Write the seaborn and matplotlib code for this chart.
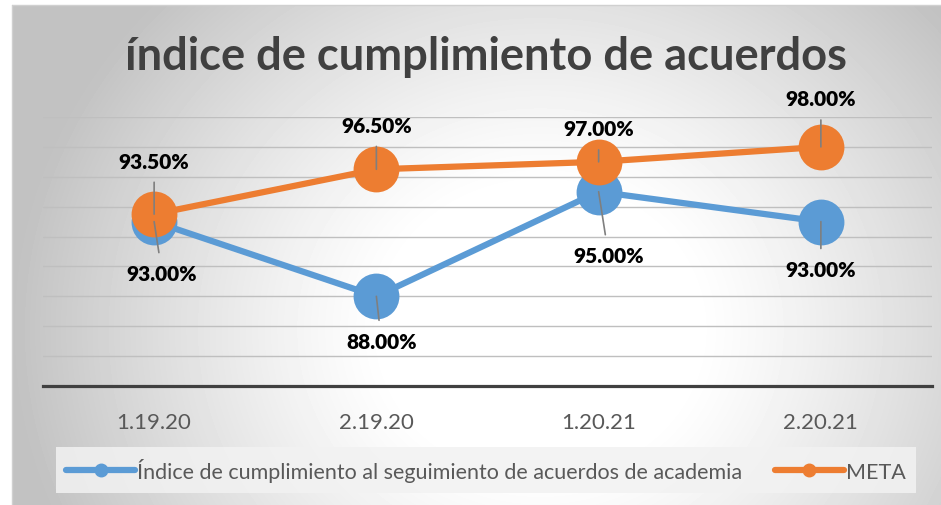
import numpy as np
import pandas as pd
import matplotlib
matplotlib.use("Agg")
import matplotlib.pyplot as plt
import seaborn as sns
from matplotlib.lines import Line2D

# datos
periodos = ["1.19.20", "2.19.20", "1.20.21", "2.20.21"]
indice = [93.0, 88.0, 95.0, 93.0]
meta = [93.5, 96.5, 97.0, 98.0]
serie_indice = "Índice de cumplimiento al seguimiento de acuerdos de academia"
serie_meta = "META"
titulo = "índice de cumplimiento de acuerdos"

azul = "#5B9BD5"
naranja = "#ED7D31"

sns.set_style("white")
plt.rcParams["font.family"] = ["Lato", "DejaVu Sans"]

df = pd.DataFrame({
    "x": list(range(len(periodos))) * 2,
    "valor": indice + meta,
    "serie": [serie_indice] * len(indice) + [serie_meta] * len(meta),
})

W, H = 941, 506
fig = plt.figure(figsize=(W / 100, H / 100), dpi=100)

# fondo degradado radial
bg = fig.add_axes([0, 0, 1, 1])
bg.set_xlim(0, W)
bg.set_ylim(H, 0)
bg.axis("off")
yy, xx = np.mgrid[6:H, 12:W]
r = np.hypot((xx - 540) / 440.0, (yy - 330) / 400.0)
g = np.clip((r - 0.35) / 0.85, 0, 1)
val = 1 - 0.24 * g ** 1.2
bg.imshow(val, cmap="gray", vmin=0, vmax=1, extent=(12, W, H, 6), aspect="auto", interpolation="bilinear")
bg.plot([12, W], [6, 6], color="#d0d0d0", lw=1)
bg.plot([12, 12], [6, H], color="#d0d0d0", lw=1)

ax = fig.add_axes([43 / W, 1 - 387 / H, 889 / W, 269 / H])
ax.set_facecolor("none")

sns.lineplot(data=df, x="x", y="valor", hue="serie", palette=[azul, naranja],
             marker="o", markersize=33, markeredgewidth=0, linewidth=4.5,
             legend=False, ax=ax, zorder=3)

ax.set_xlim(-0.5, len(periodos) - 0.5)
ax.set_ylim(82, 100)
ax.set_yticks(np.arange(82, 101, 2))
ax.set_yticklabels([])
ax.set_xticks(range(len(periodos)))
ax.set_xticklabels(periodos, fontsize=16, color="#595959")
ax.tick_params(axis="both", length=0)
ax.tick_params(axis="x", pad=19)
ax.set_xlabel("")
ax.set_ylabel("")
ax.yaxis.grid(True, color="#bfbfbf", lw=1)
ax.set_axisbelow(True)
for s in ["top", "left", "right"]:
    ax.spines[s].set_visible(False)
ax.spines["bottom"].set_color("#404040")
ax.spines["bottom"].set_linewidth(2.3)

# etiquetas de datos con lineas guia
off_meta = [(0, 53), (0, 44), (0, 33), (0, 48)]
off_indice = [(8, -52), (5, -45), (10, -64), (0, -48)]
for serie, offs in [(meta, off_meta), (indice, off_indice)]:
    for i, v in enumerate(serie):
        ax.annotate(f"{v:.2f}%", xy=(i, v), xytext=offs[i], textcoords="offset pixels",
                    ha="center", va="center", fontsize=15, fontweight="heavy", color="#000000",
                    arrowprops=dict(arrowstyle="-", color="#7f7f7f", lw=1.2, shrinkA=6, shrinkB=0),
                    zorder=5)

fig.text(486 / W, 1 - 57 / H, titulo, ha="center", va="center",
         fontsize=32.6, fontweight="bold", color="#404040")

handles = [
    Line2D([0], [0], color=azul, lw=4.5, marker="o", markersize=9),
    Line2D([0], [0], color=naranja, lw=4.5, marker="o", markersize=9),
]
leg = fig.legend(handles, [serie_indice, serie_meta], loc="center",
                 bbox_to_anchor=(486 / W, 1 - 471 / H), ncol=2, fontsize=15.5,
                 frameon=True, facecolor="#f2f2f2", edgecolor="none", framealpha=0.85,
                 fancybox=False, handlelength=3.2, handletextpad=0.1, columnspacing=1.5,
                 borderpad=0.5)
for t in leg.get_texts():
    t.set_color("#595959")

fig.savefig("out.png", dpi=100)
